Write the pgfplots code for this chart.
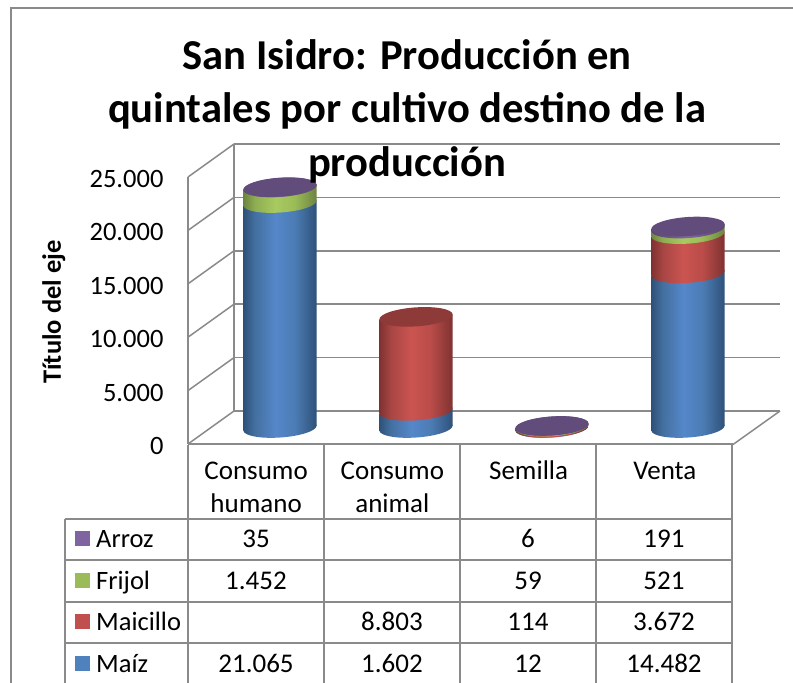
\documentclass[border=0pt]{standalone}
\usepackage{fontspec}
\setmainfont{Carlito}
\usepackage{pgfplots}
\pgfplotsset{compat=1.18}
\usetikzlibrary{shapes.geometric}
\definecolor{gridc}{HTML}{8A8A8A}
\definecolor{cPur}{HTML}{8064A2}
\definecolor{cGre}{HTML}{9BBB59}
\definecolor{cRed}{HTML}{C0504D}
\definecolor{cBlu}{HTML}{4F81BD}
\definecolor{capPur}{HTML}{624C7C}
\definecolor{capRed}{HTML}{8E3A38}
\definecolor{bA}{HTML}{2E5178}\definecolor{bB}{HTML}{4470A0}\definecolor{bC}{HTML}{5587CA}\definecolor{bD}{HTML}{4C7CB4}
\definecolor{rA}{HTML}{7E3231}\definecolor{rB}{HTML}{A84644}\definecolor{rC}{HTML}{CB5450}\definecolor{rD}{HTML}{B94C49}
\definecolor{gA}{HTML}{6C8340}\definecolor{gB}{HTML}{8FAD52}\definecolor{gC}{HTML}{A8CA60}\definecolor{gD}{HTML}{9BBB58}
\definecolor{pA}{HTML}{584670}\definecolor{pC}{HTML}{8064A2}
\pgfdeclarehorizontalshading{cylBlu}{100bp}{color(0bp)=(bA);color(25bp)=(bA);color(33bp)=(bB);color(47bp)=(bC);color(60bp)=(bD);color(75bp)=(bA);color(100bp)=(bA)}
\pgfdeclarehorizontalshading{cylRed}{100bp}{color(0bp)=(rA);color(25bp)=(rA);color(33bp)=(rB);color(47bp)=(rC);color(60bp)=(rD);color(75bp)=(rA);color(100bp)=(rA)}
\pgfdeclarehorizontalshading{cylGre}{100bp}{color(0bp)=(gA);color(25bp)=(gA);color(33bp)=(gB);color(47bp)=(gC);color(60bp)=(gD);color(75bp)=(gA);color(100bp)=(gA)}
\pgfdeclarehorizontalshading{cylPur}{100bp}{color(0bp)=(pA);color(25bp)=(pA);color(50bp)=(pC);color(75bp)=(pA);color(100bp)=(pA)}
\tikzset{cylnode/.style={ellipse,inner sep=0pt,outer sep=0pt,minimum width=73.4pt,minimum height=19pt,rotate=4,draw=none,anchor=center}}
% x centre, base, shading : the disc that closes a segment from below
\newcommand\disc[3]{\addplot[draw=none,mark=none,nodes near coords={},nodes near coords align={center},
  every node near coord/.style={cylnode,shading=#3}] coordinates {(#1,#2)};}
% x centre, base of the segment, value of the segment, shading
\newcommand\seg[4]{\disc{#1}{#2}{#4}%
  \edef\tmp{\noexpand\addplot[draw=none,shading=#4] coordinates {%
    (\the\numexpr#1-270\relax,\the\numexpr#2-234\relax)
    (\the\numexpr#1+270\relax,\the\numexpr#2+234\relax)
    (\the\numexpr#1+270\relax,\the\numexpr#2+#3+234\relax)
    (\the\numexpr#1-270\relax,\the\numexpr#2+#3-234\relax)};}\tmp}
% x centre, top, cap colour
\newcommand\topcap[3]{\addplot[draw=none,mark=none,nodes near coords={},nodes near coords align={center},
  every node near coord/.style={cylnode,fill=#3}] coordinates {(#1,#2)};}
\newcommand\tcell[3]{\node[anchor=base,font=\fontsize{27}{33}\selectfont] at (#1,#2) {#3};}
\begin{document}
\begin{tikzpicture}[x=1pt,y=-1pt]
\path[use as bounding box] (0,0) rectangle (793,683);
% chart frame
\draw[gridc,line width=1.5pt] (11,683) -- (11,8) -- (793,8);
% back wall
\begin{axis}[at={(234pt,-411pt)},anchor=south west,scale only axis,width=546pt,height=267pt,
  xmin=0,xmax=1,ymin=0,ymax=25000,xtick=\empty,ytick={0,5000,10000,15000,20000,25000},yticklabels={},
  scaled y ticks=false,
  ymajorgrids,major grid style={gridc,line width=1.5pt},major tick length=0pt,
  axis line style={gridc,line width=1.5pt},axis x line=none,axis y line=left,y axis line style={-}]
\end{axis}
% depth lines
\foreach \a/\b in {444/411,390.6/357.6,337.2/304.2,283.8/250.8,230.4/197.4,177/144}
  \draw[gridc,line width=1.5pt] (188,\a) -- (234,\b);
\draw[gridc,line width=1.5pt] (733,444.5) -- (780,411);
% front plane: value axis and category names
\begin{axis}[at={(188pt,-444pt)},anchor=south west,scale only axis,width=545pt,height=267pt,
  xmin=0,xmax=4,ymin=0,ymax=25000,
  ytick={0,5000,10000,15000,20000,25000},
  xtick={0.5,1.5,2.5,3.5},
  xticklabels={{\strut Consumo\\humano},{\strut Consumo\\animal},{\strut Semilla},{\strut Venta}},
  xticklabel style={align=center,anchor=north,font=\fontsize{27}{33}\selectfont,yshift=-9pt},
  yticklabel style={font=\fontsize{26.5}{30}\selectfont,anchor=east,xshift=-21pt,yshift=-2pt},
  /pgf/number format/assume math mode=true,
  /pgf/number format/.cd,fixed,1000 sep={.},/pgfplots/.cd,
  scaled y ticks=false,major tick length=0pt,
  axis line style={gridc,line width=1.5pt},
  axis x line=bottom,axis y line=left,x axis line style={-},y axis line style={-},
  ylabel={Título del eje},
  every axis y label/.style={at={(axis description cs:-0.246,0.494)},rotate=90,anchor=center,font=\fontsize{26.5}{30}\selectfont\bfseries}]
\end{axis}
% cylinders
\begin{axis}[at={(188pt,-428pt)},anchor=south west,scale only axis,width=545pt,height=267pt,
  xmin=-676.5,xmax=3331,ymin=0,ymax=25000,clip=false,axis lines=none,
  title={San Isidro: Producción en\\quintales por cultivo destino de la\\producción},
  title style={at={(axis description cs:0.402,0.895)},anchor=south,align=center,inner sep=0pt,
    font=\fontsize{42.6}{53.5}\selectfont\bfseries}]
% Consumo humano
\seg{0}{0}{21065}{cylBlu}
\seg{0}{21065}{1452}{cylGre}
\seg{0}{22517}{35}{cylPur}
\topcap{0}{22552}{capPur}
% Consumo animal
\seg{1000}{0}{1602}{cylBlu}
\seg{1000}{1602}{8803}{cylRed}
\topcap{1000}{10405}{capRed}
% Semilla
\seg{2000}{0}{12}{cylBlu}
\seg{2000}{12}{114}{cylRed}
\seg{2000}{126}{59}{cylGre}
\seg{2000}{185}{6}{cylPur}
\topcap{2000}{191}{capPur}
% Venta
\seg{3000}{0}{14482}{cylBlu}
\seg{3000}{14482}{3672}{cylRed}
\seg{3000}{18154}{521}{cylGre}
\seg{3000}{18675}{191}{cylPur}
\topcap{3000}{18866}{capPur}
\end{axis}
% data table
\foreach \xx in {188,324,460,596,732} \draw[gridc,line width=1.5pt] (\xx,445) -- (\xx,683);
\draw[gridc,line width=1.5pt] (65,683) -- (65,519);
\foreach \yy in {519,560,602,643} \draw[gridc,line width=1.5pt] (65,\yy) -- (732,\yy);
\foreach \yy/\cc in {538/cPur,580/cGre,621/cRed,663/cBlu} \fill[\cc] (75,\yy-7.5) rectangle (90,\yy+7.5);
\foreach \yy/\nm in {547/Arroz,589/Frijol,630/Maicillo,672/Maíz}
  \node[anchor=base west,inner sep=0pt,font=\fontsize{26.5}{33}\selectfont] at (96,\yy) {\nm};
\tcell{256}{547}{35}\tcell{528}{547}{6}\tcell{664}{547}{191}
\tcell{256}{589}{1.452}\tcell{528}{589}{59}\tcell{664}{589}{521}
\tcell{392}{630}{8.803}\tcell{528}{630}{114}\tcell{664}{630}{3.672}
\tcell{256}{672}{21.065}\tcell{392}{672}{1.602}\tcell{528}{672}{12}\tcell{664}{672}{14.482}
\end{tikzpicture}
\end{document}
